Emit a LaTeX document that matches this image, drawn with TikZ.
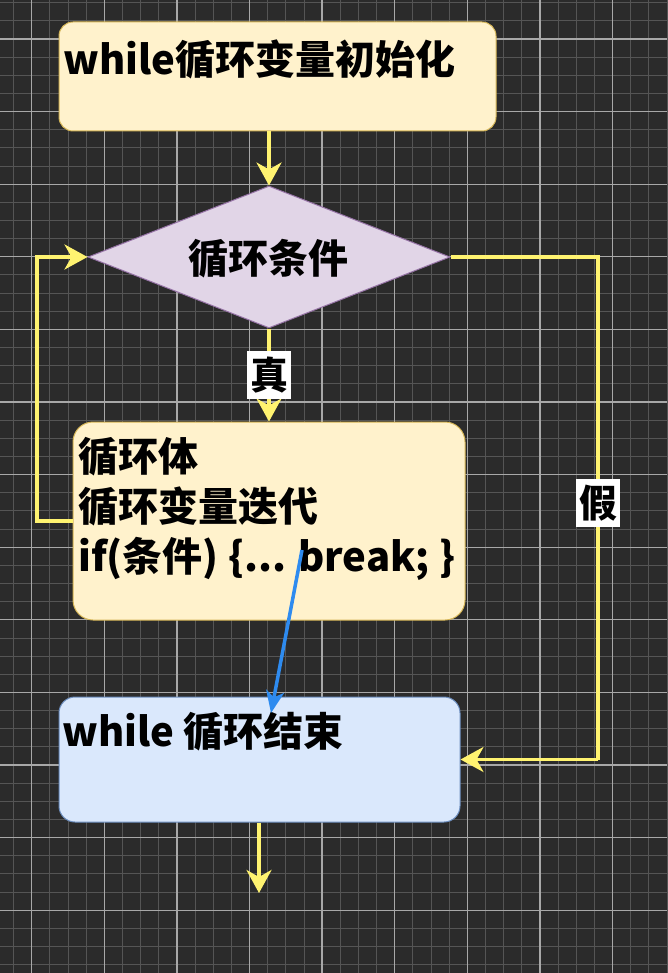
\documentclass[tikz,border=0pt]{standalone}
\usepackage{fontspec}
\setmainfont{Noto Sans CJK SC}
\usetikzlibrary{shapes.geometric,arrows.meta}
\definecolor{bg}{HTML}{2B2B2B}
\definecolor{gminor}{HTML}{555555}
\definecolor{gmajor}{HTML}{A8A8A8}
\definecolor{yline}{HTML}{FFF370}
\definecolor{bline}{HTML}{2E8BEF}
\definecolor{yfill}{HTML}{FFF2CC}
\definecolor{ydraw}{HTML}{D6B656}
\definecolor{bfill}{HTML}{DAE8FC}
\definecolor{bdraw}{HTML}{6C8EBF}
\definecolor{pfill}{HTML}{E1D5E7}
\definecolor{pdraw}{HTML}{9673A6}
\tikzset{
  minorline/.style={gminor, line width=0.9pt},
  majorline/.style={gmajor, line width=1.3pt},
  ybox/.style={rectangle, rounded corners=14pt, fill=yfill, draw=ydraw, line width=1pt, inner sep=0pt},
  bbox/.style={rectangle, rounded corners=16pt, fill=bfill, draw=bdraw, line width=1pt, inner sep=0pt},
  dia/.style={diamond, aspect=2.55, fill=pfill, draw=pdraw, line width=1pt, inner sep=0pt, minimum width=362pt, minimum height=142pt},
  txt/.style={inner sep=0pt, font=\fontsize{40}{50}\selectfont\bfseries, text=black},
  lbl/.style={fill=white, inner xsep=3pt, inner ysep=6pt, font=\fontsize{38}{44}\selectfont\bfseries, text=black},
  yarrow/.style={yline, line width=3.5pt, -{Stealth[length=23pt, width=25pt, inset=7pt]}},
  yplain/.style={yline, line width=3.5pt},
  barrow/.style={bline, line width=3.5pt, -{Stealth[length=22pt, width=18pt, inset=6pt]}}
}
\begin{document}
\begin{tikzpicture}[x=1pt,y=-1pt]
\fill[bg] (0,0) rectangle (667,973);
\useasboundingbox (0,0) rectangle (667,973);
% grid
\foreach \i in {0,...,36} {\draw[minorline] ({13.55+\i*18.15},0) -- ++(0,973);}
\foreach \i in {0,...,53} {\draw[minorline] (0,{2.7+\i*18.15}) -- ++(667,0);}
\foreach \i in {0,...,8} {\draw[majorline] ({31.7+\i*72.6},0) -- ++(0,973);}
\foreach \i in {0,...,12} {\draw[majorline] (0,{39+\i*72.6}) -- ++(667,0);}
% nodes
\node[ybox, minimum width=437pt, minimum height=109pt] (init) at (277.5,76.5) {};
\node[txt, anchor=west] (initt) at (63,59) {while循环变量初始化};
\node[dia] (cond) at (269,257) {};
\node[txt] (condt) at (268,259) {循环条件};
\node[ybox, rounded corners=20pt, minimum width=392pt, minimum height=198pt] (body) at (269,521) {};
\node[txt, anchor=west, align=left] (bodyt) at (78,509) {循环体\\循环变量迭代\\if(条件) \{... break; \}};
\node[bbox, minimum width=401pt, minimum height=125pt] (endbox) at (259.5,759.5) {};
\node[txt, anchor=west] (endt) at (62,732) {while 循环结束};
% coordinates
\coordinate (lx) at (37,0);
\coordinate (rx) at (598,0);
\coordinate (bend) at (259,893);
\coordinate (bs) at (302,550);
\coordinate (be) at (271,713);
% connectors
\draw[yarrow] (init.south -| cond.north) -- (cond.north);
\draw[yarrow] (cond.south) -- (body.north) node[lbl, pos=0.5] (lblT) {真};
\draw[yarrow] (body.west) -- (body.west -| lx) -- (cond.west -| lx) -- (cond.west);
\draw[yplain] (cond.east) -- (cond.east -| rx) -- (endbox.east -| rx) node[lbl, pos=0.49] (lblF) {假};
\draw[yarrow] (endbox.east -| rx) -- (endbox.east);
\draw[yarrow] (endbox.south -| bend) -- (bend);
\draw[barrow] (bs) -- (be);
\end{tikzpicture}
\end{document}
